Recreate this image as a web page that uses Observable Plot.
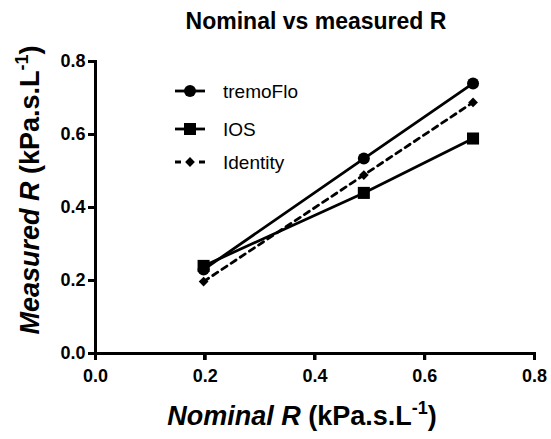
<!DOCTYPE html>
<html><head><meta charset="utf-8">
<script src="https://cdn.jsdelivr.net/npm/d3@7"></script>
<script src="https://cdn.jsdelivr.net/npm/@observablehq/plot@0.6"></script>
<style>
body{margin:0;background:#fff;font-family:"Liberation Sans",Arial,sans-serif;overflow:hidden;}
#title{height:40px;margin:0;font-size:23px;font-weight:bold;position:relative;}
#title span{position:absolute;left:316px;top:8px;transform:translateX(-50%);white-space:nowrap;}
#chart{position:relative;width:551px;height:399px;}
#chart svg{display:block;}
#overlay{position:absolute;left:0;top:0;width:551px;height:399px;pointer-events:none;}
#overlay div{position:absolute;background:#000;}
</style></head>
<body>
<div id="title"><span>Nominal vs measured R</span></div>
<div id="chart"><div id="overlay"></div></div>
<script>
const nominal = [0.197, 0.489, 0.688];
const tremoFlo = [0.23, 0.534, 0.74];
const ios = [0.24, 0.44, 0.589];
const identity = [0.197, 0.489, 0.688];
const ticks = [0, 0.2, 0.4, 0.6, 0.8];

const series = [
  {name: "tremoFlo", values: tremoFlo, symbol: "circle", r: 6, dash: null},
  {name: "IOS", values: ios, symbol: "square", r: 6.8, dash: null},
  {name: "Identity", values: identity, symbol: "diamond2", r: 4.4, dash: "6,5"}
];
const rows = series.flatMap(s => nominal.map((x, i) => ({series: s.name, x, y: s.values[i]})));

const W = 551, H = 399;
const M = {left: 95, right: 17, top: 21, bottom: 86};
const marks = [];
for (const s of [series[2], series[1], series[0]]) {
  const d = rows.filter(r => r.series === s.name);
  marks.push(Plot.line(d, {x: "x", y: "y", stroke: "black", strokeWidth: 2.8, strokeDasharray: s.dash}));
  marks.push(Plot.dot(d, {x: "x", y: "y", symbol: () => s.symbol, fill: "black", stroke: "none", r: s.r}));
}
const chart = Plot.plot({
  width: W, height: H,
  marginLeft: M.left, marginRight: M.right, marginTop: M.top, marginBottom: M.bottom,
  style: {fontFamily: "Liberation Sans, Arial, sans-serif", background: "white"},
  x: {domain: [0, 0.8]},
  y: {domain: [0, 0.8]},
  marks: [
    Plot.axisX({ticks, tickFormat: d3.format(".1f"), tickSize: 7, tickPadding: 9, stroke: "black", strokeWidth: 3, fontSize: 18, fontWeight: "bold", fill: "black", label: null}),
    Plot.axisY({ticks, tickFormat: d3.format(".1f"), tickSize: 7, tickPadding: 3, stroke: "black", strokeWidth: 3, fontSize: 18, fontWeight: "bold", fill: "black", label: null}),
    Plot.ruleX([0], {stroke: "black", strokeWidth: 3}),
    Plot.ruleY([0], {stroke: "black", strokeWidth: 3}),
    ...marks
  ]
});
document.getElementById("chart").insertBefore(chart, document.getElementById("overlay"));

// scales from the chart's own scale descriptors
function rebuild(name, fallbackRange) {
  let sc = null;
  try { sc = chart.scale(name); } catch (e) {}
  const dom = sc && sc.domain ? sc.domain : [0, 0.8];
  const rng = sc && sc.range && sc.range.every(Number.isFinite) ? sc.range : fallbackRange;
  return d3.scaleLinear(dom, rng);
}
const sx = rebuild("x", [M.left, W - M.right]);
const sy = rebuild("y", [H - M.bottom, M.top]);

// solid axis lines and ticks over the plot, placed from the scales
const ov = d3.select("#overlay");
const lw = 3;
function bar(x, y, w, h) {
  ov.append("div").style("left", x + "px").style("top", y + "px").style("width", w + "px").style("height", h + "px");
}
bar(sx(0) - lw / 2, sy(0.8) - lw / 2, lw, sy(0) - sy(0.8) + lw);
bar(sx(0) - lw / 2, sy(0) - lw / 2, sx(0.8) - sx(0) + lw, lw);
ticks.forEach(t => {
  bar(sx(t) - lw / 2, sy(0), lw, 7);
  bar(sx(0) - 7, sy(t) - lw / 2, 7, lw);
});

const svg = d3.select(chart);
// axis titles
const yl = svg.append("text")
  .attr("transform", "translate(39,150) rotate(-90)")
  .attr("text-anchor", "middle")
  .attr("font-size", 27).attr("font-weight", "bold").attr("fill", "black");
yl.append("tspan").attr("font-style", "italic").text("Measured R");
yl.append("tspan").text(" (kPa.s.L");
yl.append("tspan").attr("dy", -11).attr("font-size", 18).text("-1");
yl.append("tspan").attr("dy", 11).text(")");

const xl = svg.append("text")
  .attr("transform", "translate(302,385)")
  .attr("text-anchor", "middle")
  .attr("font-size", 27).attr("font-weight", "bold").attr("fill", "black");
xl.append("tspan").attr("font-style", "italic").text("Nominal R");
xl.append("tspan").text(" (kPa.s.L");
xl.append("tspan").attr("dy", -11).attr("font-size", 18).text("-1");
xl.append("tspan").attr("dy", 11).text(")");

// legend
const legY = [51, 89, 122];
series.forEach((s, i) => {
  const g = svg.append("g").attr("transform", `translate(190,${legY[i]})`);
  g.append("line").attr("x1", -15).attr("x2", 15).attr("stroke", "black").attr("stroke-width", 2.8)
    .attr("stroke-dasharray", s.dash ? "6,6" : null);
  const sym = {circle: d3.symbolCircle, square: d3.symbolSquare, diamond2: d3.symbolDiamond2}[s.symbol];
  g.append("path").attr("d", d3.symbol(sym, Math.PI * s.r * s.r)()).attr("fill", "black");
  g.append("text").attr("x", 33).attr("dy", "0.35em").attr("text-anchor", "start")
    .attr("font-size", 19).attr("fill", "black").text(s.name);
});
</script>
</body></html>
